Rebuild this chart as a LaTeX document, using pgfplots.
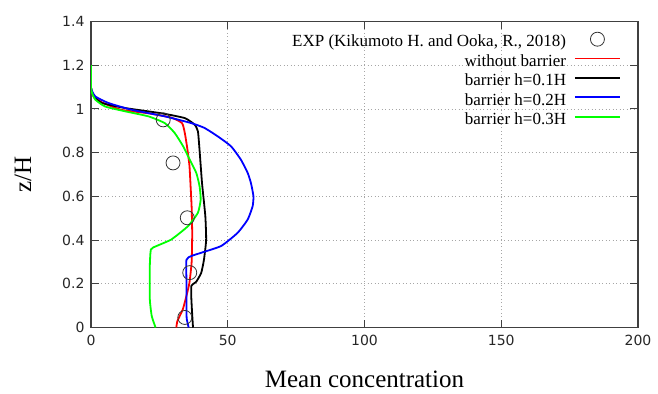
\documentclass[border=0pt]{standalone}
\usepackage{pgfplots}
\pgfplotsset{compat=1.18}
\usepackage{fontspec}
\setmainfont{Liberation Serif}
\newfontfamily\tickfont{DejaVu Sans}
\begin{document}
\begin{tikzpicture}
\path[use as bounding box] (-91pt,-66pt) rectangle (567pt,327.5pt);
\begin{axis}[
  at={(0,0)}, anchor=south west,
  scale only axis, width=547pt, height=306pt,
  xmin=0, xmax=200, ymin=0, ymax=1.4,
  xtick={0,50,100,150,200}, ytick={0,0.2,0.4,0.6,0.8,1,1.2,1.4},
  tick align=inside, major tick length=8pt,
  axis line style={draw=black!75, line width=1.2pt},
  tick style={black!75, line width=0.9pt},
  grid=major, major grid style={gray!70, dash pattern=on 0.7pt off 2.8pt, line width=0.6pt},
  /pgf/number format/assume math mode=true,
  ticklabel style={font=\tickfont\fontsize{14}{17}\selectfont, text=black!85},
  xticklabel style={yshift=-4pt},
  yticklabel style={xshift=-3pt},
  xlabel={Mean concentration}, ylabel={z/H},
  label style={font=\fontsize{25}{28}\selectfont},
  xlabel style={at={(axis description cs:0.5,0)}, anchor=north, yshift=-40pt},
  ylabel style={at={(axis description cs:0,0.5)}, anchor=south, yshift=56pt},
  legend plot pos=right,
  legend cell align=right,
  legend style={draw=none, fill=none, at={(axis cs:193.8,1.352)}, anchor=north east,
    font=\fontsize{17}{19}\selectfont, row sep=0pt, column sep=8pt, inner sep=0pt,
    nodes={inner sep=0pt, text height=13.5pt, text depth=5.9pt}},
  legend image code/.code={\draw[mark repeat=2, mark phase=2, #1] plot coordinates {(0pt,4pt)(22.5pt,4pt)(45pt,4pt)};},
]
\addplot[only marks, mark=o, mark size=7pt, black!80, mark options={line width=0.8pt}] coordinates {
(26.4,0.95) (30.0,0.753) (35.2,0.502) (36.1,0.251) (34.3,0.046)};
\addlegendentry{EXP (Kikumoto H. and Ooka, R., 2018)}
\addplot[red, line width=1.8pt, smooth, tension=0.3] coordinates {
(31.2,0) (31.6,0.03) (33.6,0.084) (35,0.15) (36,0.205) (36.8,0.3) (37,0.43) (36.8,0.55) (36.4,0.65) (36,0.74) (35.2,0.82) (34.3,0.89) (33.3,0.935) (29.4,0.96) (21,0.98) (11,0.996) (4,1.03) (1,1.06) (0,1.097) (0,1.2)};
\addlegendentry{without barrier}
\addplot[black, line width=1.8pt, smooth, tension=0.3] coordinates {
(37.3,0) (37,0.06) (36.7,0.13) (36.7,0.19) (38.5,0.21) (40.3,0.25) (41.3,0.31) (42.1,0.40) (41.8,0.51) (40.6,0.66) (39.7,0.81) (39.1,0.897) (37.9,0.928) (34.3,0.958) (25.8,0.98) (12.5,1.004) (4,1.027) (1,1.057) (0,1.097) (0,1.2)};
\addlegendentry{barrier h=0.1H}
\addplot[blue, line width=1.8pt, smooth, tension=0.3] coordinates {
(35.7,0) (35,0.04) (34.9,0.084) (34.9,0.205) (34.9,0.31) (36.7,0.327) (40.3,0.342) (47.6,0.373) (53.6,0.433) (57.3,0.494) (59.1,0.555) (59.4,0.60) (58.5,0.66) (57.3,0.707) (54.8,0.768) (51.2,0.829) (46.4,0.874) (41.5,0.913) (36.7,0.935) (27,0.966) (14.9,0.996) (6.4,1.027) (1.6,1.057) (0,1.097) (0,1.2)};
\addlegendentry{barrier h=0.2H}
\addplot[green, line width=1.8pt, smooth, tension=0.3] coordinates {
(23.6,0) (22.2,0.053) (21.5,0.13) (21.5,0.28) (21.9,0.357) (24,0.373) (29.4,0.403) (35.5,0.464) (39.1,0.525) (40.1,0.585) (39.7,0.646) (38.5,0.707) (36.1,0.768) (33.7,0.829) (30.6,0.89) (27,0.935) (21,0.966) (12.5,0.989) (5.2,1.011) (1.6,1.042) (0.4,1.072) (0,1.1) (0,1.2)};
\addlegendentry{barrier h=0.3H}
\end{axis}
\end{tikzpicture}
\end{document}
